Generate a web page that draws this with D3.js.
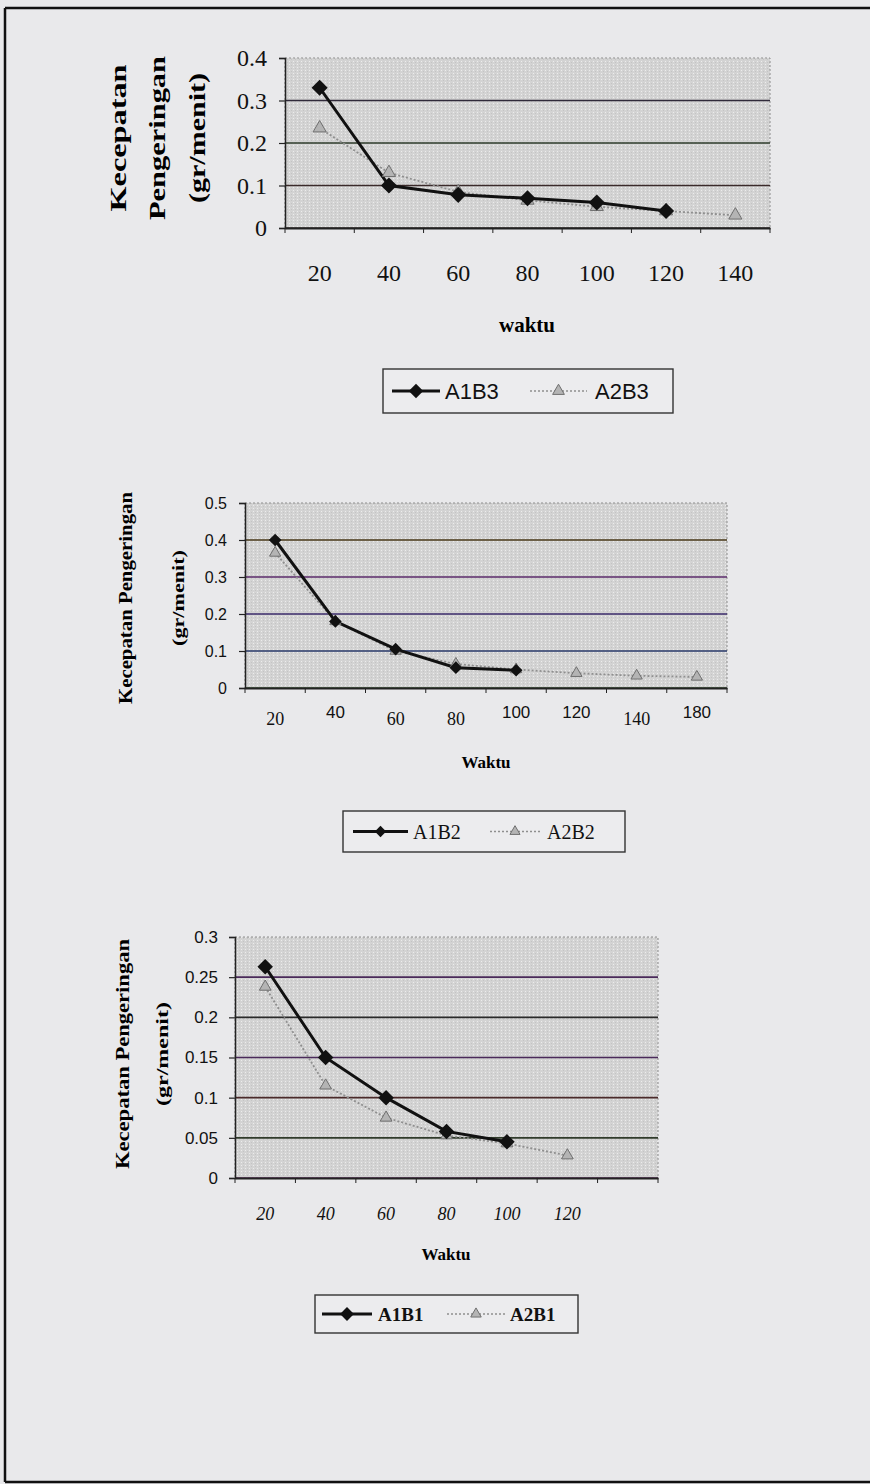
<!DOCTYPE html>
<html>
<head>
<meta charset="utf-8">
<script src="https://cdn.jsdelivr.net/npm/d3@7"></script>
<style>
  body { margin: 0; background: #e9e9eb; }
  svg { display: block; }
</style>
</head>
<body>
<div id="page"></div>
<script>
// ---- data ----
const chart1Categories = ["20", "40", "60", "80", "100", "120", "140"];
const a1b3 = [0.33, 0.1, 0.078, 0.07, 0.06, 0.04];
const a2b3 = [0.235, 0.13, 0.085, 0.065, 0.05, 0.04, 0.03];
const chart1YTicks = [0, 0.1, 0.2, 0.3, 0.4];

const chart2Categories = ["20", "40", "60", "80", "100", "120", "140", "180"];
const a1b2 = [0.4, 0.18, 0.105, 0.055, 0.048];
const a2b2 = [0.365, 0.18, 0.1, 0.065, 0.05, 0.04, 0.033, 0.03];
const chart2YTicks = [0, 0.1, 0.2, 0.3, 0.4, 0.5];

const chart3Categories = ["20", "40", "60", "80", "100", "120", ""];
const a1b1 = [0.263, 0.15, 0.1, 0.058, 0.045];
const a2b1 = [0.238, 0.115, 0.075, 0.053, 0.043, 0.028];
const chart3YTicks = [0, 0.05, 0.1, 0.15, 0.2, 0.25, 0.3];

const serif = "'Liberation Serif', 'Times New Roman', serif";
const sans = "'Liberation Sans', Arial, sans-serif";

const svg = d3.select("#page").append("svg")
  .attr("width", 870)
  .attr("height", 1484);

// grey dotted fill of the plot areas
const pat = svg.append("defs").append("pattern")
  .attr("id", "dots")
  .attr("patternUnits", "userSpaceOnUse")
  .attr("width", 4)
  .attr("height", 3);
pat.append("rect").attr("width", 4).attr("height", 3).attr("fill", "#d3d3d3");
pat.append("rect").attr("x", 1).attr("y", 1).attr("width", 1).attr("height", 1).attr("fill", "#ececec");
pat.append("rect").attr("x", 3).attr("y", 2).attr("width", 1).attr("height", 1).attr("fill", "#c4c4c4");

// page frame
svg.append("line").attr("x1", 5).attr("x2", 870).attr("y1", 8).attr("y2", 8)
  .attr("stroke", "#111").attr("stroke-width", 2.5);
svg.append("line").attr("x1", 5).attr("x2", 5).attr("y1", 8).attr("y2", 1482)
  .attr("stroke", "#111").attr("stroke-width", 2.5);
svg.append("line").attr("x1", 5).attr("x2", 870).attr("y1", 1482).attr("y2", 1482)
  .attr("stroke", "#111").attr("stroke-width", 2.5);

function drawChart(cfg) {
  const g = svg.append("g");

  const x = d3.scaleBand()
    .domain(cfg.categories)
    .range([cfg.left, cfg.right])
    .paddingInner(0)
    .paddingOuter(0);
  const cx = (i) => x(cfg.categories[i]) + x.bandwidth() / 2;

  const y = d3.scaleLinear()
    .domain([0, d3.max(cfg.yTicks)])
    .range([cfg.bottom, cfg.top]);

  // plot area
  g.append("rect")
    .attr("x", cfg.left)
    .attr("y", cfg.top)
    .attr("width", cfg.right - cfg.left)
    .attr("height", cfg.bottom - cfg.top)
    .attr("fill", "url(#dots)")
    .attr("stroke", "#8c8c8c")
    .attr("stroke-dasharray", "2,2");

  // gridlines (scan gives them a colour cast)
  g.selectAll(".grid")
    .data(cfg.yTicks.slice(0, -1))
    .join("line")
    .attr("x1", cfg.left)
    .attr("x2", cfg.right)
    .attr("y1", (d) => y(d))
    .attr("y2", (d) => y(d))
    .attr("stroke", (d, i) => cfg.gridColors[i % cfg.gridColors.length])
    .attr("stroke-width", 1.6);

  // y axis
  const yAxis = g.append("g")
    .attr("transform", `translate(${cfg.left},0)`)
    .call(d3.axisLeft(y)
      .tickValues(cfg.yTicks)
      .tickSize(6)
      .tickPadding(cfg.yPad)
      .tickFormat((d) => String(+d.toFixed(2))));
  yAxis.select(".domain").attr("stroke", "#222").attr("stroke-width", 1.5);
  yAxis.selectAll(".tick line").attr("stroke", "#222").attr("stroke-width", 1.2);
  yAxis.selectAll("text")
    .attr("fill", "#111")
    .style("font-family", cfg.yFont)
    .style("font-size", cfg.yFontSize + "px")
    .style("font-weight", cfg.yWeight);

  // x axis: labels under band centres, ticks on band edges
  const xAxis = g.append("g")
    .attr("transform", `translate(0,${cfg.bottom})`)
    .call(d3.axisBottom(x).tickSize(0).tickPadding(cfg.xPad));
  xAxis.select(".domain").attr("stroke", "#222").attr("stroke-width", 1.8);
  xAxis.selectAll("text")
    .attr("fill", "#111")
    .style("font-family", cfg.xFont)
    .style("font-size", cfg.xFontSize + "px")
    .style("font-weight", cfg.xWeight)
    .style("font-style", cfg.xItalic ? "italic" : "normal");
  if (cfg.xOdd) {
    // some labels in the scan are set in another face and sit higher
    xAxis.selectAll(".tick text")
      .filter((d) => cfg.xOdd.includes(d))
      .style("font-family", sans)
      .style("font-weight", "normal")
      .style("font-size", cfg.xFontSize - 1 + "px")
      .attr("dy", "0.35em");
  }
  g.selectAll(".xtick")
    .data(d3.range(cfg.categories.length + 1))
    .join("line")
    .attr("x1", (i) => cfg.left + i * x.step())
    .attr("x2", (i) => cfg.left + i * x.step())
    .attr("y1", cfg.bottom)
    .attr("y2", cfg.bottom + 5)
    .attr("stroke", "#222");

  // x title
  g.append("text")
    .attr("x", cfg.xTitleX)
    .attr("y", cfg.xTitleY)
    .attr("text-anchor", "middle")
    .attr("dominant-baseline", "central")
    .style("font-family", serif)
    .style("font-weight", "bold")
    .style("font-size", cfg.xTitleSize + "px")
    .text(cfg.xTitle);

  // y title lines (stretched in the scan, so fixed lengths)
  cfg.yTitles.forEach((t) => {
    g.append("text")
      .attr("transform", `translate(${t.x},${cfg.yTitleMid}) rotate(-90)`)
      .attr("x", -t.len / 2)
      .attr("textLength", t.len)
      .attr("lengthAdjust", "spacingAndGlyphs")
      .attr("dominant-baseline", "central")
      .style("font-family", serif)
      .style("font-weight", "bold")
      .style("font-size", t.size + "px")
      .text(t.text);
  });

  // series
  const line = d3.line().x((d, i) => cx(i)).y((d) => y(d));

  g.append("path")
    .datum(cfg.series2)
    .attr("fill", "none")
    .attr("stroke", "#8f8f8f")
    .attr("stroke-width", 1.8)
    .attr("stroke-dasharray", "2,2")
    .attr("d", line);

  g.append("path")
    .datum(cfg.series1)
    .attr("fill", "none")
    .attr("stroke", "#111")
    .attr("stroke-width", 3)
    .attr("d", line);

  g.selectAll(".tri")
    .data(cfg.series2)
    .join("path")
    .attr("transform", (d, i) => `translate(${cx(i)},${y(d)})`)
    .attr("d", d3.symbol(d3.symbolTriangle, cfg.triSize))
    .attr("fill", "#b4b4b4")
    .attr("stroke", "#6f6f6f")
    .attr("stroke-width", 1);

  g.selectAll(".dia")
    .data(cfg.series1)
    .join("path")
    .attr("transform", (d, i) => `translate(${cx(i)},${y(d)}) rotate(45)`)
    .attr("d", d3.symbol(d3.symbolSquare, cfg.diaSize))
    .attr("fill", "#111");

  // legend
  const L = cfg.legend;
  const lg = g.append("g");
  lg.append("rect")
    .attr("x", L.x0)
    .attr("y", L.y0)
    .attr("width", L.x1 - L.x0)
    .attr("height", L.y1 - L.y0)
    .attr("fill", "#ececee")
    .attr("stroke", "#333")
    .attr("stroke-width", 1.4);
  const ly = (L.y0 + L.y1) / 2;
  lg.append("line")
    .attr("x1", L.s1[0]).attr("x2", L.s1[1]).attr("y1", ly).attr("y2", ly)
    .attr("stroke", "#111").attr("stroke-width", 3);
  lg.append("path")
    .attr("transform", `translate(${(L.s1[0] + L.s1[1]) / 2},${ly}) rotate(45)`)
    .attr("d", d3.symbol(d3.symbolSquare, cfg.diaSize * 0.8))
    .attr("fill", "#111");
  lg.append("line")
    .attr("x1", L.s2[0]).attr("x2", L.s2[1]).attr("y1", ly).attr("y2", ly)
    .attr("stroke", "#8f8f8f").attr("stroke-width", 1.6).attr("stroke-dasharray", "2,2");
  lg.append("path")
    .attr("transform", `translate(${(L.s2[0] + L.s2[1]) / 2},${ly})`)
    .attr("d", d3.symbol(d3.symbolTriangle, cfg.triSize * 0.8))
    .attr("fill", "#b4b4b4")
    .attr("stroke", "#6f6f6f");
  [[L.t1, L.names[0]], [L.t2, L.names[1]]].forEach(([tx, name]) => {
    lg.append("text")
      .attr("x", tx)
      .attr("y", ly)
      .attr("dominant-baseline", "central")
      .style("font-family", L.font)
      .style("font-size", L.size + "px")
      .style("font-weight", L.weight)
      .attr("fill", "#111")
      .text(name);
  });
}

drawChart({
  categories: chart1Categories,
  series1: a1b3,
  series2: a2b3,
  yTicks: chart1YTicks,
  left: 285, right: 770, top: 58, bottom: 228,
  gridColors: ["#3a3030", "#3a2a2a", "#2d3a2a", "#302a3a"],
  yFont: serif, yFontSize: 24, yWeight: "normal", yPad: 12,
  xFont: serif, xFontSize: 24, xWeight: "normal", xItalic: false, xPad: 36,
  xTitle: "waktu", xTitleX: 527, xTitleY: 325, xTitleSize: 21,
  yTitleMid: 138,
  yTitles: [
    { x: 118, text: "Kecepatan", size: 24, len: 147 },
    { x: 157, text: "Pengeringan", size: 24, len: 164 },
    { x: 197, text: "(gr/menit)", size: 23, len: 130 },
  ],
  triSize: 75, diaSize: 130,
  legend: {
    x0: 383, x1: 673, y0: 369, y1: 413,
    s1: [392, 440], s2: [530, 587], t1: 445, t2: 595,
    names: ["A1B3", "A2B3"], font: sans, size: 22, weight: "normal",
  },
});

drawChart({
  categories: chart2Categories,
  series1: a1b2,
  series2: a2b2,
  yTicks: chart2YTicks,
  left: 245, right: 727, top: 503, bottom: 688,
  gridColors: ["#2f4a2a", "#2a3a6a", "#3a2a6a", "#5a2a6a", "#4a3a1a"],
  yFont: sans, yFontSize: 16, yWeight: "normal", yPad: 12,
  xFont: serif, xFontSize: 18, xWeight: "normal", xItalic: false, xPad: 24,
  xOdd: ["40", "100", "120", "180"],
  xTitle: "Waktu", xTitleX: 486, xTitleY: 762, xTitleSize: 17,
  yTitleMid: 598,
  yTitles: [
    { x: 126, text: "Kecepatan Pengeringan", size: 18, len: 212 },
    { x: 178, text: "(gr/menit)", size: 16, len: 96 },
  ],
  triSize: 55, diaSize: 80,
  legend: {
    x0: 343, x1: 625, y0: 811, y1: 852,
    s1: [353, 408], s2: [490, 540], t1: 413, t2: 547,
    names: ["A1B2", "A2B2"], font: serif, size: 20, weight: "normal",
  },
});

drawChart({
  categories: chart3Categories,
  series1: a1b1,
  series2: a2b1,
  yTicks: chart3YTicks,
  left: 235, right: 658, top: 937, bottom: 1178,
  gridColors: ["#5a2a5a", "#2f3a2a", "#4a2a2a", "#4a2a5a", "#2a2a2a", "#4a2a5a"],
  yFont: sans, yFontSize: 17, yWeight: "normal", yPad: 11,
  xFont: serif, xFontSize: 18, xWeight: "normal", xItalic: true, xPad: 29,
  xTitle: "Waktu", xTitleX: 446, xTitleY: 1254, xTitleSize: 17,
  yTitleMid: 1054,
  yTitles: [
    { x: 123, text: "Kecepatan Pengeringan", size: 18, len: 230 },
    { x: 162, text: "(gr/menit)", size: 16, len: 104 },
  ],
  triSize: 60, diaSize: 120,
  legend: {
    x0: 315, x1: 578, y0: 1295, y1: 1333,
    s1: [322, 372], s2: [447, 505], t1: 378, t2: 510,
    names: ["A1B1", "A2B1"], font: serif, size: 19, weight: "bold",
  },
});
</script>
</body>
</html>
